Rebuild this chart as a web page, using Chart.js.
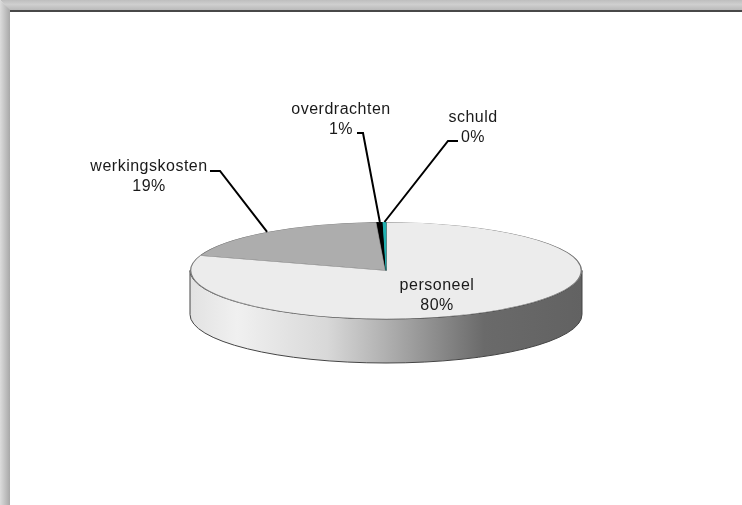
<!DOCTYPE html>
<html><head><meta charset="utf-8">
<script src="https://cdn.jsdelivr.net/npm/chart.js@4"></script>
<style>
html,body{margin:0;padding:0;background:#fff;width:742px;height:505px;overflow:hidden}
#top{position:absolute;left:0;top:0;width:742px;height:11px;background:linear-gradient(to bottom,#bebebe,#cfcfcf 40%,#b6b6b6);clip-path:polygon(0 0,100% 0,100% 100%,10px 100%)}
#line{position:absolute;left:10px;top:10px;width:732px;height:2px;background:#484848}
#left{position:absolute;left:0;top:0;width:10px;height:505px;background:linear-gradient(to right,#dcdcdc,#a8a8a8);clip-path:polygon(0 0,100% 10px,100% 100%,0 100%)}
canvas{position:absolute;left:0;top:0;filter:blur(0.35px)}
</style></head><body>
<div id="top"></div><div id="left"></div><div id="line"></div>
<canvas id="c" width="742" height="505"></canvas>
<script>
const categories = ['personeel','werkingskosten','overdrachten','schuld'];
const shares = [80, 19.25, 0.5, 0.25];
const percentLabels = ['80%','19%','1%','0%'];
const sliceColours = ['#ececec','#adadad','#000000','#1fb0b0'];
const sliceBorders = ['#777777','#777777','#000000','#1fb0b0'];

const SQUASH = 48.5/196, CY = 270.5, DEPTH = 44;
const labelLayout = [
  {x:437, y:286, inside:true},
  {x:149, y:167, elbow:[[210,171],[220,171]]},
  {x:341, y:110, elbow:[[357,133],[363,133]]},
  {x:473, y:118, elbow:[[458,141],[448,141]]}
];

const pie3d = {
  id:'pie3d',
  beforeDatasetsDraw(chart){
    const ctx = chart.ctx, a = chart.getDatasetMeta(0).data[0];
    const R = a.outerRadius, b = R*SQUASH;
    ctx.save();
    const g = ctx.createLinearGradient(a.x-R,0,a.x+R,0);
    g.addColorStop(0,'#e2e2e2'); g.addColorStop(.12,'#f0f0f0'); g.addColorStop(.35,'#d8d8d8');
    g.addColorStop(.5,'#b0b0b0'); g.addColorStop(.75,'#6a6a6a'); g.addColorStop(1,'#626262');
    ctx.beginPath();
    ctx.ellipse(a.x,CY,R,b,0,0,Math.PI,false);
    ctx.lineTo(a.x-R,CY+DEPTH);
    ctx.ellipse(a.x,CY+DEPTH,R,b,0,Math.PI,0,true);
    ctx.closePath();
    ctx.fillStyle = g; ctx.fill();
    ctx.strokeStyle = '#444'; ctx.lineWidth = 1; ctx.stroke();
    ctx.restore();
    ctx.save();
    ctx.translate(0,CY); ctx.scale(1,SQUASH); ctx.translate(0,-a.y);
  },
  afterDatasetsDraw(chart){
    const ctx = chart.ctx;
    ctx.restore();
    const els = chart.getDatasetMeta(0).data;
    ctx.save();
    ctx.font = '16px "Liberation Sans", Arial, sans-serif';
    ctx.letterSpacing = '0.5px';
    ctx.textAlign = 'center'; ctx.textBaseline = 'middle'; ctx.fillStyle = '#1a1a1a';
    ctx.lineWidth = 2; ctx.strokeStyle = '#000';
    categories.forEach((name,i)=>{
      const L = labelLayout[i], el = els[i];
      ctx.fillText(name, L.x, L.y);
      ctx.fillText(percentLabels[i], L.x, L.y+20);
      if(L.inside) return;
      const mid = (el.startAngle+el.endAngle)/2;
      const ex = el.x + el.outerRadius*Math.cos(mid);
      const ey = CY + el.outerRadius*SQUASH*Math.sin(mid);
      ctx.beginPath();
      ctx.moveTo(L.elbow[0][0],L.elbow[0][1]);
      ctx.lineTo(L.elbow[1][0],L.elbow[1][1]);
      ctx.lineTo(ex,ey);
      ctx.stroke();
    });
    ctx.restore();
  }
};

new Chart(document.getElementById('c'),{
  type:'pie',
  data:{labels:categories,datasets:[{
    data:shares,backgroundColor:sliceColours,
    borderColor:sliceBorders,borderWidth:1,borderAlign:'inner',clip:false
  }]},
  options:{
    responsive:false,animation:false,
    radius:196,
    layout:{padding:{left:30}},
    plugins:{legend:{display:false},tooltip:{enabled:false},title:{display:false}}
  },
  plugins:[pie3d]
});
</script>
</body></html>
